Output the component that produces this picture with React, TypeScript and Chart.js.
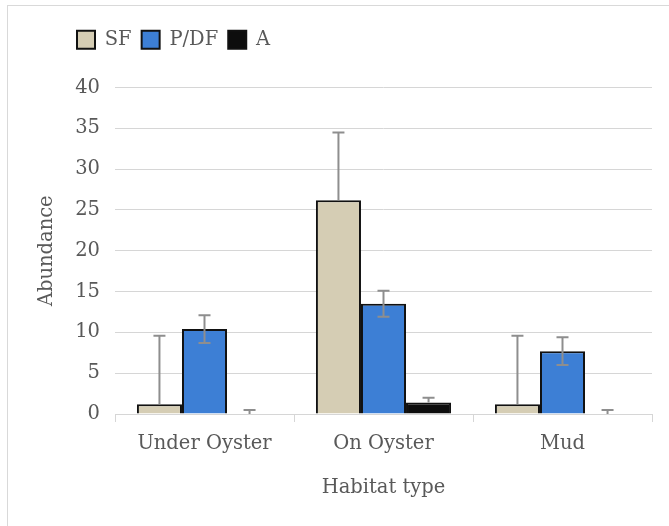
import React, { useEffect, useRef } from 'react';
import { Chart, registerables } from 'chart.js';

Chart.register(...registerables);

const categories = ['Under Oyster', 'On Oyster', 'Mud'];
const seriesNames = ['SF', 'P/DF', 'A'];
const sfValues = [1.2, 26.2, 1.2];
const sfErrors = [8.4, 8.3, 8.4];
const pdfValues = [10.4, 13.5, 7.7];
const pdfErrors = [1.7, 1.6, 1.7];
const aValues = [0, 1.4, 0];
const aErrors = [0.5, 0.6, 0.5];
const yMin = 0;
const yMax = 40;
const yStep = 5;
const xTitle = 'Habitat type';
const yTitle = 'Abundance';

const FONT = "'DejaVu Serif', serif";
const TEXT = '#595959';
const GRID = '#d6d6d6';
const FS = 19.5;

const errorBarPlugin = {
  id: 'errorBars',
  afterDatasetsDraw(chart: any) {
    const ctx = chart.ctx;
    const yScale = chart.scales.y;
    const area = chart.chartArea;
    ctx.save();
    ctx.beginPath();
    ctx.rect(area.left, area.top - 2, area.right - area.left, area.bottom - area.top + 2);
    ctx.clip();
    ctx.strokeStyle = '#8e8e8e';
    ctx.lineWidth = 2;
    chart.data.datasets.forEach((ds: any, di: number) => {
      const meta = chart.getDatasetMeta(di);
      if (!ds.errors) return;
      meta.data.forEach((bar: any, i: number) => {
        const v = ds.data[i];
        const e = ds.errors[i];
        const x = bar.x;
        const top = yScale.getPixelForValue(v + e);
        const bot = ds.errorMode === 'plus' ? yScale.getPixelForValue(v) : yScale.getPixelForValue(Math.max(0, v - e));
        ctx.beginPath();
        ctx.moveTo(x, top);
        ctx.lineTo(x, bot);
        ctx.moveTo(x - 6, top);
        ctx.lineTo(x + 6, top);
        if (ds.errorMode !== 'plus' && v - e > 0) {
          ctx.moveTo(x - 6, bot);
          ctx.lineTo(x + 6, bot);
        }
        ctx.stroke();
      });
    });
    ctx.restore();
  },
};

const legendMovePlugin = {
  id: 'legendMove',
  afterLayout(chart: any) {
    const l = chart.legend;
    if (!l) return;
    const w = l.right - l.left;
    const h = l.bottom - l.top;
    l.left = 67;
    l.right = 67 + w;
    l.top = 20;
    l.bottom = 20 + h;
  },
};

export default function App() {
  const ref = useRef<HTMLCanvasElement | null>(null);
  useEffect(() => {
    if (!ref.current) return;
    const chart = new Chart(ref.current, {
      type: 'bar',
      data: {
        labels: categories,
        datasets: [
          { label: seriesNames[0], data: sfValues, errors: sfErrors, errorMode: 'plus', backgroundColor: '#d5cdb4', borderColor: '#111111', borderWidth: 2 } as any,
          { label: seriesNames[1], data: pdfValues, errors: pdfErrors, errorMode: 'both', backgroundColor: '#3d7fd5', borderColor: '#111111', borderWidth: 2 } as any,
          { label: seriesNames[2], data: aValues, errors: aErrors, errorMode: 'plus', backgroundColor: '#0d0d0d', borderColor: '#111111', borderWidth: 2 } as any,
        ],
      },
      options: {
        responsive: false,
        animation: false,
        layout: { padding: { top: 48, left: 10, right: 17, bottom: 20 } },
        datasets: { bar: { categoryPercentage: 0.755, barPercentage: 1 } },
        plugins: {
          legend: {
            position: 'top',
            align: 'start',
            labels: {
              boxWidth: 18,
              boxHeight: 18,
              padding: 10,
              color: TEXT,
              font: { family: FONT, size: 19.5 },
            },
          },
          tooltip: { enabled: false },
        },
        scales: {
          x: {
            grid: { offset: true, drawOnChartArea: false, drawTicks: true, tickLength: 8, color: GRID },
            border: { display: true, color: GRID, width: 1 },
            ticks: { color: TEXT, font: { family: FONT, size: FS }, padding: 10 },
            title: { display: true, text: xTitle, color: TEXT, font: { family: FONT, size: FS }, padding: { top: 0, bottom: 6 } },
            afterFit(scale: any) { scale.height = 526 - 414 - 20; },
          },
          y: {
            min: yMin,
            max: yMax,
            ticks: { stepSize: yStep, color: TEXT, font: { family: FONT, size: FS }, padding: 15 },
            grid: { color: GRID, drawTicks: false, lineWidth: 1 },
            border: { display: false },
            title: { display: true, text: yTitle, color: TEXT, font: { family: FONT, size: FS }, padding: { top: 25, bottom: 0 } },
            afterFit(scale: any) { scale.width = 115 - 10; },
          },
        },
      } as any,
      plugins: [errorBarPlugin, legendMovePlugin],
    });
    return () => chart.destroy();
  }, []);
  return (
    <div>
      <div style={{ position: 'fixed', left: 7, top: 5, width: 700, height: 560, borderLeft: '1px solid #d9d9d9', borderTop: '1px solid #d9d9d9', boxSizing: 'border-box' }} />
      <div style={{ position: 'fixed', left: 0, top: 0, width: 669, height: 526 }}>
        <canvas ref={ref} width={669} height={526} style={{ display: 'block' }} />
      </div>
    </div>
  );
}
